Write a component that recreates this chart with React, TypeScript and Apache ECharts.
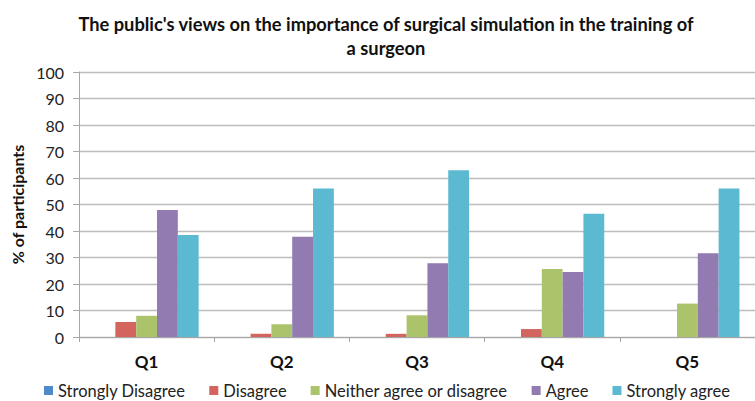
import React, { useEffect, useRef } from "react";
import * as echarts from "echarts";

const categories = ["Q1", "Q2", "Q3", "Q4", "Q5"];
const seriesNames = ["Strongly Disagree", "Disagree", "Neither agree or disagree", "Agree", "Strongly agree"];
const stronglyDisagree = [0, 0, 0, 0, 0];
const disagree = [5.7, 1.2, 1.2, 3.0, 0];
const neither = [8.0, 4.8, 8.2, 25.7, 12.6];
const agree = [47.9, 37.8, 27.8, 24.5, 31.6];
const stronglyAgree = [38.5, 56.0, 62.9, 46.5, 56.0];
const yTicks = { min: 0, max: 100, interval: 10 };

const colors = ["#4F8ACB", "#D3655E", "#ABC46B", "#917BB1", "#5CB9D2"];
const FONT = "Lato, 'Open Sans', sans-serif";

export default function App() {
  const ref = useRef<HTMLDivElement>(null);
  useEffect(() => {
    if (!ref.current) return;
    const chart = echarts.init(ref.current, undefined, { renderer: "svg" });
    const data = [stronglyDisagree, disagree, neither, agree, stronglyAgree];
    chart.setOption({
      animation: false,
      backgroundColor: "#ffffff",
      textStyle: { fontFamily: FONT },
      title: {
        text: "The public's views on the importance of surgical simulation in the training of\na surgeon",
        left: 381,
        top: 7,
        textAlign: "center",
        textStyle: { fontFamily: FONT, fontSize: 18.3, fontWeight: "bold", color: "#111", lineHeight: 24 },
      },
      legend: {
        top: 382,
        left: 44,
        padding: 0,
        icon: "rect",
        itemWidth: 9,
        itemHeight: 9,
        itemGap: 24,
        data: seriesNames,
        textStyle: { fontFamily: FONT, fontSize: 16.5, color: "#222" },
      },
      grid: { left: 79, top: 72, width: 687, height: 265 },
      xAxis: {
        type: "category",
        data: categories,
        axisLine: { lineStyle: { color: "#A6A6A6", width: 1 } },
        axisTick: { show: true, length: 5, lineStyle: { color: "#A6A6A6" } },
        axisLabel: { fontFamily: FONT, fontSize: 17, fontWeight: "bold", color: "#111", margin: 16 },
      },
      yAxis: {
        type: "value",
        min: yTicks.min,
        max: yTicks.max,
        interval: yTicks.interval,
        name: "% of participants",
        nameLocation: "middle",
        nameRotate: 90,
        nameGap: 49,
        nameTextStyle: { fontFamily: FONT, fontSize: 16, fontWeight: "bold", color: "#111" },
        axisLine: { show: true, lineStyle: { color: "#A6A6A6" } },
        axisTick: { show: true, length: 6, lineStyle: { color: "#A6A6A6" } },
        axisLabel: { fontFamily: FONT, fontSize: 16, color: "#222", margin: 15 },
        splitLine: { lineStyle: { color: "#BDBDBD", width: 1.3 } },
      },
      series: seriesNames.map((name, i) => ({
        name,
        type: "bar",
        data: data[i],
        barGap: "0%",
        barCategoryGap: "23%",
        itemStyle: { color: colors[i], borderWidth: 0 },
      })),
    });
    return () => chart.dispose();
  }, []);
  return (
    <div
      ref={ref}
      style={{ position: "absolute", left: 0, top: 0, width: 755, height: 401 }}
    />
  );
}
